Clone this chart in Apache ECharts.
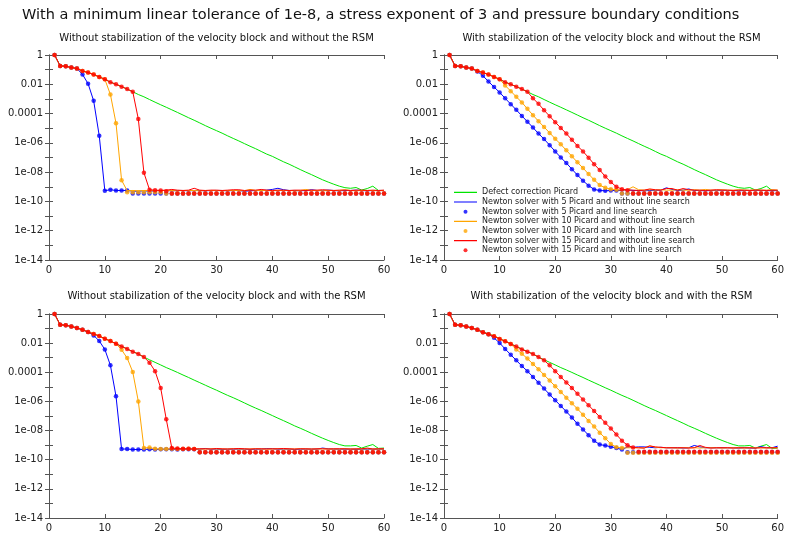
<!DOCTYPE html>
<html>
<head>
<meta charset="utf-8">
<script src="https://cdn.jsdelivr.net/npm/echarts@6/dist/echarts.min.js"></script>
<style>html,body{margin:0;padding:0;background:#fff}#c{width:787px;height:533px}</style>
</head>
<body>
<div id="c"></div>
<script>
// ---------- data ----------
const mainTitle = 'With a minimum linear tolerance of 1e-8, a stress exponent of 3 and pressure boundary conditions';
const panelTitles = [
  'Without stabilization of the velocity block and without the RSM',
  'With stabilization of the velocity block and without the RSM',
  'Without stabilization of the velocity block and with the RSM',
  'With stabilization of the velocity block and with the RSM'
];
const seriesNames = [
  'Defect correction Picard',
  'Newton solver with 5 Picard and without line search',
  'Newton solver with 5 Picard and line search',
  'Newton solver with 10 Picard and without line search',
  'Newton solver with 10 Picard and with line search',
  'Newton solver with 15 Picard and without line search',
  'Newton solver with 15 Picard and with line search'
];
const xTicks = [0, 10, 20, 30, 40, 50, 60];
const yTickLabels = ['1', '0.01', '0.0001', '1e-06', '1e-08', '1e-10', '1e-12', '1e-14'];

// Defect correction Picard (iterations 1..60)
const greenTop = [1,0.18,0.17,0.14,0.12,0.081,0.063,0.046,0.032,0.022,0.014,0.010,0.0069,0.0047,0.0031,
  2.0e-3,1.4e-3,9.1e-4,6.0e-4,4.0e-4,2.7e-4,1.8e-4,1.2e-4,7.9e-5,5.2e-5,3.5e-5,2.3e-5,1.5e-5,1.0e-5,6.8e-6,
  4.6e-6,3.0e-6,2.0e-6,1.35e-6,8.9e-7,5.9e-7,4.0e-7,2.6e-7,1.7e-7,1.2e-7,7.8e-8,5.1e-8,3.5e-8,2.3e-8,1.5e-8,
  1.0e-8,6.8e-9,4.5e-9,3.0e-9,2.1e-9,1.5e-9,1.1e-9,8.7e-10,7.9e-10,8.9e-10,6.0e-10,7.6e-10,1.1e-9,5.6e-10,5.6e-10];
const greenBottom = [1,0.18,0.17,0.14,0.11,0.083,0.058,0.043,0.031,0.020,0.014,0.0091,0.006,0.004,0.0026,0.0018,0.0011,
  7.2e-4,4.8e-4,3.2e-4,2.1e-4,1.45e-4,9.8e-5,6.5e-5,4.4e-5,2.9e-5,1.95e-5,1.3e-5,8.7e-6,5.9e-6,3.9e-6,2.6e-6,
  1.8e-6,1.2e-6,7.9e-7,5.2e-7,3.5e-7,2.4e-7,1.6e-7,1.07e-7,7.1e-8,4.8e-8,3.2e-8,2.1e-8,1.45e-8,9.8e-9,6.5e-9,
  4.4e-9,3.0e-9,2.1e-9,1.5e-9,1.1e-9,8.9e-10,8.9e-10,9.5e-10,6.3e-10,8.5e-10,1.1e-9,6.0e-10,6.3e-10];

// Top-left panel
const tlBlue = [1,0.18,0.17,0.14,0.12,0.047,0.011,7.4e-4,3.0e-6,5.4e-10,
  6.3e-10,5.6e-10,5.6e-10,5.6e-10,5.0e-10,5.0e-10,5.3e-10,5.0e-10,5.3e-10,5.6e-10,
  5.6e-10,5.3e-10,5.6e-10,5.6e-10,5.3e-10,5.6e-10,5.6e-10,5.3e-10,5.6e-10,5.6e-10,
  5.6e-10,5.3e-10,5.6e-10,5.6e-10,5.0e-10,5.3e-10,5.6e-10,5.6e-10,5.9e-10,6.6e-10,
  7.9e-10,6.3e-10,5.6e-10,5.6e-10,5.3e-10,5.6e-10,6.3e-10,5.6e-10,5.6e-10,5.9e-10,
  5.6e-10,5.3e-10,5.6e-10,5.6e-10,5.9e-10,5.6e-10,5.3e-10,5.6e-10,5.6e-10,5.6e-10];
const tlBlueLS = [1,0.18,0.17,0.14,0.12,0.047,0.011,7.4e-4,3.0e-6,5.4e-10,
  6.3e-10,5.6e-10,5.6e-10,5.6e-10,3.5e-10,3.5e-10,3.5e-10,3.5e-10,3.5e-10,3.5e-10,
  3.5e-10,3.5e-10,3.5e-10,3.5e-10,3.5e-10,3.5e-10,3.5e-10,3.5e-10,3.5e-10,3.5e-10,
  3.5e-10,3.5e-10,3.5e-10,3.5e-10,3.5e-10,3.5e-10,3.5e-10,3.5e-10,3.5e-10,3.5e-10,
  3.5e-10,3.5e-10,3.5e-10,3.5e-10,3.5e-10,3.5e-10,3.5e-10,3.5e-10,3.5e-10,3.5e-10,
  3.5e-10,3.5e-10,3.5e-10,3.5e-10,3.5e-10,3.5e-10,3.5e-10,3.5e-10,3.5e-10,3.5e-10];
const tlOrange = [1,0.18,0.17,0.14,0.12,0.081,0.063,0.046,0.032,0.022,
  2.0e-3,2.2e-5,2.8e-9,5.4e-10,5.6e-10,5.3e-10,5.6e-10,5.6e-10,5.3e-10,5.6e-10,
  5.6e-10,5.6e-10,5.3e-10,5.6e-10,5.6e-10,5.6e-10,5.3e-10,5.6e-10,5.6e-10,5.6e-10,
  5.3e-10,5.6e-10,5.6e-10,5.6e-10,5.3e-10,6.6e-10,5.6e-10,5.6e-10,5.6e-10,5.3e-10,
  5.6e-10,5.6e-10,5.6e-10,5.3e-10,5.6e-10,6.6e-10,5.6e-10,5.6e-10,5.3e-10,5.6e-10,
  5.6e-10,5.6e-10,6.3e-10,5.6e-10,5.3e-10,5.6e-10,5.6e-10,5.6e-10,5.3e-10,5.6e-10];
const tlOrangeLS = [1,0.18,0.17,0.14,0.12,0.081,0.063,0.046,0.032,0.022,
  2.0e-3,2.2e-5,2.8e-9,4.2e-10,4.2e-10,4.2e-10,4.2e-10,4.2e-10,4.2e-10,4.2e-10,
  3.5e-10,3.5e-10,3.5e-10,3.5e-10,3.5e-10,3.5e-10,3.5e-10,3.5e-10,3.5e-10,3.5e-10,
  3.5e-10,3.5e-10,3.5e-10,3.5e-10,3.5e-10,3.5e-10,3.5e-10,3.5e-10,3.5e-10,3.5e-10,
  3.5e-10,3.5e-10,3.5e-10,3.5e-10,3.5e-10,3.5e-10,3.5e-10,3.5e-10,3.5e-10,3.5e-10,
  3.5e-10,3.5e-10,3.5e-10,3.5e-10,3.5e-10,3.5e-10,3.5e-10,3.5e-10,3.5e-10,3.5e-10];
const tlRed = [1,0.18,0.17,0.14,0.12,0.081,0.063,0.046,0.032,0.022,
  0.014,0.010,0.0069,0.0047,0.0031,4.2e-5,9.1e-9,6.3e-10,5.9e-10,5.6e-10,
  5.9e-10,6.6e-10,5.9e-10,5.6e-10,5.9e-10,7.9e-10,5.9e-10,5.6e-10,5.9e-10,5.9e-10,
  5.6e-10,5.9e-10,6.3e-10,6.3e-10,5.6e-10,5.9e-10,5.9e-10,6.6e-10,5.9e-10,5.6e-10,
  5.9e-10,5.9e-10,5.6e-10,5.9e-10,5.9e-10,5.6e-10,5.9e-10,5.9e-10,6.3e-10,5.9e-10,
  5.6e-10,5.9e-10,5.9e-10,5.6e-10,5.9e-10,5.9e-10,5.6e-10,5.9e-10,5.6e-10,5.9e-10];
const tlRedLS = [1,0.18,0.17,0.14,0.12,0.081,0.063,0.046,0.032,0.022,
  0.014,0.010,0.0069,0.0047,0.0031,4.2e-5,9.1e-9,6.3e-10,5.9e-10,5.6e-10,
  5.0e-10,3.5e-10,3.5e-10,3.5e-10,3.5e-10,3.5e-10,3.5e-10,3.5e-10,3.5e-10,3.5e-10,
  3.5e-10,3.5e-10,3.5e-10,3.5e-10,3.5e-10,3.5e-10,3.5e-10,3.5e-10,3.5e-10,3.5e-10,
  3.5e-10,3.5e-10,3.5e-10,3.5e-10,3.5e-10,3.5e-10,3.5e-10,3.5e-10,3.5e-10,3.5e-10,
  3.5e-10,3.5e-10,3.5e-10,3.5e-10,3.5e-10,3.5e-10,3.5e-10,3.5e-10,3.5e-10,3.5e-10];

// Top-right panel
const trBlue = [1,0.18,0.17,0.14,0.12,0.076,0.038,0.0155,0.0065,0.0028,
  1.1e-3,4.4e-4,1.8e-4,6.9e-5,2.8e-5,1.1e-5,4.3e-6,1.8e-6,6.9e-7,2.6e-7,
  1.0e-7,4.2e-8,1.6e-8,6.3e-9,2.6e-9,1.2e-9,6.6e-10,5.6e-10,5.3e-10,5.6e-10,
  5.6e-10,5.6e-10,6.3e-10,5.6e-10,5.6e-10,5.3e-10,5.6e-10,5.6e-10,5.9e-10,8.5e-10,
  6.6e-10,5.6e-10,5.9e-10,7.1e-10,5.6e-10,5.6e-10,5.3e-10,5.6e-10,5.6e-10,5.9e-10,
  5.6e-10,5.6e-10,5.3e-10,5.6e-10,5.6e-10,5.9e-10,5.6e-10,5.6e-10,5.3e-10,5.6e-10];
const trBlueLS = [1,0.18,0.17,0.14,0.12,0.076,0.038,0.0155,0.0065,0.0028,
  1.1e-3,4.4e-4,1.8e-4,6.9e-5,2.8e-5,1.1e-5,4.3e-6,1.8e-6,6.9e-7,2.6e-7,
  1.0e-7,4.2e-8,1.6e-8,6.3e-9,2.6e-9,1.2e-9,6.6e-10,5.6e-10,5.3e-10,5.6e-10,
  5.6e-10,3.5e-10,3.5e-10,3.5e-10,3.5e-10,3.5e-10,3.5e-10,3.5e-10,3.5e-10,3.5e-10,
  3.5e-10,3.5e-10,3.5e-10,3.5e-10,3.5e-10,3.5e-10,3.5e-10,3.5e-10,3.5e-10,3.5e-10,
  3.5e-10,3.5e-10,3.5e-10,3.5e-10,3.5e-10,3.5e-10,3.5e-10,3.5e-10,3.5e-10,3.5e-10];
const trOrange = [1,0.18,0.17,0.14,0.12,0.081,0.063,0.046,0.032,0.022,
  8.3e-3,3.4e-3,1.4e-3,5.8e-4,2.1e-4,7.8e-5,3.0e-5,1.2e-5,4.8e-6,1.9e-6,
  7.9e-7,3.1e-7,1.2e-7,4.7e-8,1.9e-8,7.4e-9,3.0e-9,1.3e-9,8.5e-10,6.9e-10,
  6.3e-10,5.9e-10,6.3e-10,1.0e-9,6.3e-10,5.9e-10,6.3e-10,5.9e-10,6.3e-10,5.9e-10,
  5.9e-10,6.3e-10,5.9e-10,5.9e-10,6.3e-10,5.9e-10,6.6e-10,5.9e-10,5.9e-10,6.3e-10,
  5.9e-10,5.9e-10,6.3e-10,5.9e-10,5.9e-10,6.3e-10,5.9e-10,5.9e-10,6.3e-10,5.9e-10];
const trOrangeLS = [1,0.18,0.17,0.14,0.12,0.081,0.063,0.046,0.032,0.022,
  8.3e-3,3.4e-3,1.4e-3,5.8e-4,2.1e-4,7.8e-5,3.0e-5,1.2e-5,4.8e-6,1.9e-6,
  7.9e-7,3.1e-7,1.2e-7,4.7e-8,1.9e-8,7.4e-9,3.0e-9,1.3e-9,8.5e-10,6.9e-10,
  6.3e-10,3.5e-10,3.5e-10,3.5e-10,3.5e-10,3.5e-10,3.5e-10,3.5e-10,3.5e-10,3.5e-10,
  3.5e-10,3.5e-10,3.5e-10,3.5e-10,3.5e-10,3.5e-10,3.5e-10,3.5e-10,3.5e-10,3.5e-10,
  3.5e-10,3.5e-10,3.5e-10,3.5e-10,3.5e-10,3.5e-10,3.5e-10,3.5e-10,3.5e-10,3.5e-10];
const trRed = [1,0.18,0.17,0.14,0.12,0.081,0.063,0.046,0.032,0.022,
  0.014,0.010,0.0069,0.0047,0.0031,1.1e-3,4.6e-4,1.7e-4,6.6e-5,2.6e-5,
  1.05e-5,4.3e-6,1.6e-6,6.2e-7,2.6e-7,9.8e-8,3.5e-8,1.4e-8,5.1e-9,2.1e-9,
  1.0e-9,6.9e-10,5.9e-10,5.9e-10,5.6e-10,5.9e-10,7.1e-10,6.3e-10,5.9e-10,7.6e-10,
  7.6e-10,5.9e-10,7.6e-10,6.3e-10,5.9e-10,5.9e-10,5.6e-10,5.9e-10,6.3e-10,5.9e-10,
  5.9e-10,5.6e-10,5.9e-10,5.9e-10,5.6e-10,5.9e-10,5.9e-10,5.6e-10,5.9e-10,5.9e-10];
const trRedLS = [1,0.18,0.17,0.14,0.12,0.081,0.063,0.046,0.032,0.022,
  0.014,0.010,0.0069,0.0047,0.0031,1.1e-3,4.6e-4,1.7e-4,6.6e-5,2.6e-5,
  1.05e-5,4.3e-6,1.6e-6,6.2e-7,2.6e-7,9.8e-8,3.5e-8,1.4e-8,5.1e-9,2.1e-9,
  1.0e-9,6.9e-10,5.9e-10,3.5e-10,3.5e-10,3.5e-10,3.5e-10,3.5e-10,3.5e-10,3.5e-10,
  3.5e-10,3.5e-10,3.5e-10,3.5e-10,3.5e-10,3.5e-10,3.5e-10,3.5e-10,3.5e-10,3.5e-10,
  3.5e-10,3.5e-10,3.5e-10,3.5e-10,3.5e-10,3.5e-10,3.5e-10,3.5e-10,3.5e-10,3.5e-10];

// Bottom-left panel
const blBlue = [1,0.18,0.17,0.14,0.11,0.083,0.058,0.034,0.014,3.7e-3,
  3.0e-4,2.3e-6,5.4e-10,5.4e-10,5.0e-10,5.0e-10,5.0e-10,5.3e-10,5.0e-10,5.3e-10,
  5.3e-10,5.3e-10,5.0e-10,5.3e-10,5.3e-10,5.3e-10,5.3e-10,5.9e-10,5.3e-10,5.3e-10,
  5.0e-10,5.3e-10,5.3e-10,5.3e-10,5.3e-10,5.0e-10,5.3e-10,5.3e-10,5.9e-10,5.6e-10,
  5.3e-10,5.3e-10,5.3e-10,5.0e-10,5.3e-10,5.3e-10,5.3e-10,5.3e-10,6.3e-10,5.6e-10,
  5.3e-10,5.3e-10,5.3e-10,5.3e-10,5.0e-10,5.3e-10,5.3e-10,5.3e-10,5.3e-10,5.3e-10];
const blBlueLS = [1,0.18,0.17,0.14,0.11,0.083,0.058,0.034,0.014,3.7e-3,
  3.0e-4,2.3e-6,5.4e-10,5.4e-10,5.0e-10,5.0e-10,5.0e-10,5.3e-10,5.0e-10,5.3e-10,
  5.3e-10,5.3e-10,5.0e-10,5.3e-10,5.3e-10,5.3e-10,3.2e-10,3.2e-10,3.2e-10,3.2e-10,
  3.2e-10,3.2e-10,3.2e-10,3.2e-10,3.2e-10,3.2e-10,3.2e-10,3.2e-10,3.2e-10,3.2e-10,
  3.2e-10,3.2e-10,3.2e-10,3.2e-10,3.2e-10,3.2e-10,3.2e-10,3.2e-10,3.2e-10,3.2e-10,
  3.2e-10,3.2e-10,3.2e-10,3.2e-10,3.2e-10,3.2e-10,3.2e-10,3.2e-10,3.2e-10,3.2e-10];
const blOrange = [1,0.18,0.17,0.14,0.11,0.083,0.058,0.043,0.031,0.020,
  0.014,0.0091,3.5e-3,9.5e-4,1.05e-4,1.0e-6,6.3e-10,6.8e-10,5.6e-10,5.4e-10,
  5.4e-10,5.6e-10,5.4e-10,5.4e-10,5.6e-10,5.4e-10,5.4e-10,5.4e-10,5.6e-10,5.4e-10,
  5.4e-10,5.4e-10,5.6e-10,5.4e-10,5.4e-10,5.4e-10,5.6e-10,5.4e-10,5.4e-10,5.4e-10,
  5.6e-10,5.4e-10,5.4e-10,5.4e-10,5.6e-10,5.4e-10,5.4e-10,5.4e-10,5.6e-10,5.4e-10,
  5.4e-10,5.4e-10,5.6e-10,5.4e-10,5.4e-10,5.4e-10,5.6e-10,5.4e-10,5.4e-10,5.4e-10];
const blOrangeLS = [1,0.18,0.17,0.14,0.11,0.083,0.058,0.043,0.031,0.020,
  0.014,0.0091,3.5e-3,9.5e-4,1.05e-4,1.0e-6,6.3e-10,6.8e-10,5.6e-10,5.4e-10,
  5.4e-10,5.6e-10,5.4e-10,5.4e-10,5.6e-10,5.4e-10,3.2e-10,3.2e-10,3.2e-10,3.2e-10,
  3.2e-10,3.2e-10,3.2e-10,3.2e-10,3.2e-10,3.2e-10,3.2e-10,3.2e-10,3.2e-10,3.2e-10,
  3.2e-10,3.2e-10,3.2e-10,3.2e-10,3.2e-10,3.2e-10,3.2e-10,3.2e-10,3.2e-10,3.2e-10,
  3.2e-10,3.2e-10,3.2e-10,3.2e-10,3.2e-10,3.2e-10,3.2e-10,3.2e-10,3.2e-10,3.2e-10];
const blRed = [1,0.18,0.17,0.14,0.11,0.083,0.058,0.043,0.031,0.020,
  0.014,0.0091,0.006,0.004,0.0026,0.0018,0.0011,4.6e-4,1.2e-4,8.5e-6,
  6.0e-8,6.3e-10,5.9e-10,5.6e-10,5.6e-10,5.4e-10,5.6e-10,5.6e-10,5.4e-10,5.9e-10,
  5.6e-10,5.4e-10,5.6e-10,5.9e-10,5.6e-10,5.4e-10,5.6e-10,5.6e-10,5.4e-10,5.6e-10,
  5.6e-10,5.9e-10,5.6e-10,5.4e-10,5.6e-10,5.6e-10,5.4e-10,5.6e-10,5.6e-10,5.4e-10,
  5.6e-10,5.6e-10,5.6e-10,5.4e-10,5.6e-10,5.6e-10,6.3e-10,5.4e-10,5.6e-10,5.6e-10];
const blRedLS = [1,0.18,0.17,0.14,0.11,0.083,0.058,0.043,0.031,0.020,
  0.014,0.0091,0.006,0.004,0.0026,0.0018,0.0011,4.6e-4,1.2e-4,8.5e-6,
  6.0e-8,6.3e-10,5.9e-10,5.6e-10,5.6e-10,5.4e-10,3.2e-10,3.2e-10,3.2e-10,3.2e-10,
  3.2e-10,3.2e-10,3.2e-10,3.2e-10,3.2e-10,3.2e-10,3.2e-10,3.2e-10,3.2e-10,3.2e-10,
  3.2e-10,3.2e-10,3.2e-10,3.2e-10,3.2e-10,3.2e-10,3.2e-10,3.2e-10,3.2e-10,3.2e-10,
  3.2e-10,3.2e-10,3.2e-10,3.2e-10,3.2e-10,3.2e-10,3.2e-10,3.2e-10,3.2e-10,3.2e-10];

// Bottom-right panel
const brBlue = [1,0.18,0.17,0.14,0.11,0.083,0.055,0.041,0.023,0.0102,
  4.0e-3,1.6e-3,6.6e-4,2.7e-4,1.2e-4,4.8e-5,1.9e-5,7.6e-6,3.0e-6,1.2e-6,
  4.9e-7,2.0e-7,7.8e-8,2.9e-8,1.2e-8,4.8e-9,2.0e-9,1.1e-9,9.3e-10,7.9e-10,
  6.3e-10,5.0e-10,7.6e-10,7.1e-10,7.6e-10,7.6e-10,7.1e-10,6.6e-10,7.1e-10,6.6e-10,
  6.6e-10,6.6e-10,6.3e-10,6.6e-10,9.5e-10,7.6e-10,6.6e-10,6.6e-10,6.6e-10,6.6e-10,
  6.6e-10,6.6e-10,6.3e-10,6.6e-10,6.3e-10,6.3e-10,7.9e-10,6.6e-10,6.6e-10,8.5e-10];
const brBlueLS = [1,0.18,0.17,0.14,0.11,0.083,0.055,0.041,0.023,0.0102,
  4.0e-3,1.6e-3,6.6e-4,2.7e-4,1.2e-4,4.8e-5,1.9e-5,7.6e-6,3.0e-6,1.2e-6,
  4.9e-7,2.0e-7,7.8e-8,2.9e-8,1.2e-8,4.8e-9,2.0e-9,1.1e-9,9.3e-10,7.9e-10,
  6.3e-10,5.0e-10,3.2e-10,3.2e-10,3.2e-10,3.2e-10,3.2e-10,3.2e-10,3.2e-10,3.2e-10,
  3.2e-10,3.2e-10,3.2e-10,3.2e-10,3.2e-10,3.2e-10,3.2e-10,3.2e-10,3.2e-10,3.2e-10,
  3.2e-10,3.2e-10,3.2e-10,3.2e-10,3.2e-10,3.2e-10,3.2e-10,3.2e-10,3.2e-10,3.2e-10];
const brOrange = [1,0.18,0.17,0.14,0.11,0.083,0.055,0.041,0.030,0.0195,
  0.0135,0.0087,3.7e-3,1.9e-3,8.7e-4,3.7e-4,1.6e-4,6.6e-5,2.7e-5,1.1e-5,
  4.5e-6,1.8e-6,7.4e-7,3.1e-7,1.2e-7,4.6e-8,1.9e-8,7.2e-9,3.0e-9,1.2e-9,
  7.2e-10,6.3e-10,6.6e-10,6.6e-10,6.6e-10,6.3e-10,8.9e-10,7.1e-10,6.6e-10,6.6e-10,
  6.6e-10,6.3e-10,6.6e-10,6.6e-10,6.6e-10,6.3e-10,6.6e-10,6.6e-10,6.6e-10,6.3e-10,
  6.6e-10,6.6e-10,6.6e-10,6.3e-10,6.6e-10,6.6e-10,6.6e-10,6.3e-10,6.6e-10,6.6e-10];
const brOrangeLS = [1,0.18,0.17,0.14,0.11,0.083,0.055,0.041,0.030,0.0195,
  0.0135,0.0087,3.7e-3,1.9e-3,8.7e-4,3.7e-4,1.6e-4,6.6e-5,2.7e-5,1.1e-5,
  4.5e-6,1.8e-6,7.4e-7,3.1e-7,1.2e-7,4.6e-8,1.9e-8,7.2e-9,3.0e-9,1.2e-9,
  7.2e-10,6.3e-10,3.0e-10,3.0e-10,3.0e-10,3.0e-10,3.0e-10,3.0e-10,3.0e-10,3.0e-10,
  3.0e-10,3.0e-10,3.0e-10,3.0e-10,3.0e-10,3.0e-10,3.0e-10,3.0e-10,3.0e-10,3.0e-10,
  3.0e-10,3.0e-10,3.0e-10,3.0e-10,3.0e-10,3.0e-10,3.0e-10,3.0e-10,3.0e-10,3.0e-10];
const brRed = [1,0.18,0.17,0.14,0.11,0.083,0.055,0.041,0.030,0.0195,
  0.0135,0.0087,0.0058,0.0037,0.0026,0.0018,0.0011,6.6e-4,3.0e-4,1.2e-4,
  4.8e-5,2.0e-5,8.5e-6,3.3e-6,1.35e-6,5.5e-7,2.2e-7,8.7e-8,3.4e-8,1.4e-8,
  5.4e-9,2.0e-9,9.8e-10,6.9e-10,6.6e-10,6.3e-10,8.9e-10,7.6e-10,7.1e-10,6.6e-10,
  6.6e-10,6.6e-10,6.6e-10,6.3e-10,6.6e-10,9.5e-10,7.1e-10,6.3e-10,6.6e-10,6.6e-10,
  6.6e-10,6.3e-10,6.6e-10,6.6e-10,6.6e-10,6.3e-10,6.6e-10,6.6e-10,6.6e-10,6.6e-10];
const brRedLS = [1,0.18,0.17,0.14,0.11,0.083,0.055,0.041,0.030,0.0195,
  0.0135,0.0087,0.0058,0.0037,0.0026,0.0018,0.0011,6.6e-4,3.0e-4,1.2e-4,
  4.8e-5,2.0e-5,8.5e-6,3.3e-6,1.35e-6,5.5e-7,2.2e-7,8.7e-8,3.4e-8,1.4e-8,
  5.4e-9,2.0e-9,9.8e-10,6.9e-10,3.5e-10,3.5e-10,3.5e-10,3.5e-10,3.5e-10,3.5e-10,
  3.5e-10,3.5e-10,3.5e-10,3.5e-10,3.5e-10,3.5e-10,3.5e-10,3.5e-10,3.5e-10,3.5e-10,
  3.5e-10,3.5e-10,3.5e-10,3.5e-10,3.5e-10,3.5e-10,3.5e-10,3.5e-10,3.5e-10,3.5e-10];

const panels = [
  [greenTop, tlBlue, tlBlueLS, tlOrange, tlOrangeLS, tlRed, tlRedLS],
  [greenTop, trBlue, trBlueLS, trOrange, trOrangeLS, trRed, trRedLS],
  [greenBottom, blBlue, blBlueLS, blOrange, blOrangeLS, blRed, blRedLS],
  [greenBottom, brBlue, brBlueLS, brOrange, brOrangeLS, brRed, brRedLS]
];

// ---------- styling / layout ----------
const colors = ['#00e400', '#0000ff', '#0000ff', '#ffa500', '#ffa500', '#ff0000', '#ff0000'];
const isDots = [false, false, true, false, true, false, true];
const grids = [
  {left: 49, top: 55, width: 335, height: 205},
  {left: 444, top: 55, width: 335, height: 205},
  {left: 49, top: 314, width: 335, height: 204},
  {left: 444, top: 314, width: 335, height: 204}
];
const titleY = [38.3, 38.3, 296.7, 296.7];
const axisColor = '#555';
const labelColor = '#222';
const FONT = 'DejaVu Sans';

function yLabel(v) {
  const e = Math.round(Math.log10(v));
  if (e % 2 !== 0) return '';
  const idx = -e / 2;
  return yTickLabels[idx] !== undefined ? yTickLabels[idx] : '';
}

const xAxes = [], yAxes = [], series = [], titles = [];
titles.push({text: mainTitle, left: 22, top: 15, textVerticalAlign: 'middle', padding: 0,
  textStyle: {fontSize: 14.5, fontWeight: 'normal', color: '#111', fontFamily: FONT}});

grids.forEach((g, i) => {
  titles.push({text: panelTitles[i], left: g.left + g.width / 2, top: titleY[i], textAlign: 'center',
    textVerticalAlign: 'middle', padding: 0,
    textStyle: {fontSize: 10, fontWeight: 'normal', color: '#111', fontFamily: FONT}});
  const xBase = {gridIndex: i, type: 'value', min: xTicks[0], max: xTicks[xTicks.length - 1], interval: 10,
    axisLine: {show: true, lineStyle: {color: axisColor, width: 1}},
    axisTick: {show: true, inside: true, length: 4, lineStyle: {color: axisColor}},
    splitLine: {show: false}};
  xAxes.push(Object.assign({}, xBase, {position: 'bottom',
    axisLabel: {fontSize: 10, margin: 5, color: labelColor, fontFamily: FONT}}));
  xAxes.push(Object.assign({}, xBase, {position: 'top', axisLabel: {show: false}}));
  const yBase = {gridIndex: i, type: 'log', logBase: 10, min: 1e-14, max: 1, interval: 1,
    axisLine: {show: true, lineStyle: {color: axisColor, width: 1}},
    axisTick: {show: true, inside: true, length: 4, lineStyle: {color: axisColor}},
    splitLine: {show: false}, minorTick: {show: false}};
  yAxes.push(Object.assign({}, yBase, {position: 'left',
    axisLabel: {fontSize: 10, margin: 6, color: labelColor, fontFamily: FONT, formatter: yLabel, showMinLabel: true, showMaxLabel: true}}));
  yAxes.push(Object.assign({}, yBase, {position: 'right', axisLabel: {show: false}}));

  panels[i].forEach((arr, k) => {
    const data = arr.map((v, j) => [j + 1, v]);
    if (isDots[k]) {
      series.push({name: seriesNames[k], type: 'scatter', xAxisIndex: 2 * i, yAxisIndex: 2 * i,
        data, symbol: 'circle', symbolSize: 4.5, itemStyle: {color: colors[k]}, z: 2 + k * 0.01});
    } else {
      series.push({name: seriesNames[k], type: 'line', xAxisIndex: 2 * i, yAxisIndex: 2 * i,
        data, showSymbol: false, symbol: 'none', lineStyle: {color: colors[k], width: 1},
        itemStyle: {color: colors[k]}, z: 2 + k * 0.01});
    }
  });
});

const lineIcon = 'path://M0,0h0.01v0.01h-0.01zM0,1.4h23v1.2h-23zM0,3.99h0.01v0.01h-0.01z';
const legendData = seriesNames.map((n, k) => ({
  name: n,
  icon: isDots[k] ? 'circle' : lineIcon,
  itemStyle: {color: colors[k]}
}));

const chart = echarts.init(document.getElementById('c'), null, {renderer: 'canvas'});
chart.setOption({
  animation: false,
  backgroundColor: '#fff',
  textStyle: {fontFamily: FONT},
  title: titles,
  grid: grids,
  xAxis: xAxes,
  yAxis: yAxes,
  legend: {data: legendData, orient: 'vertical', left: 454, top: 187.5, padding: 0,
    itemWidth: 23, itemHeight: 4, itemGap: 0, selectedMode: false, symbolKeepAspect: false,
    textStyle: {fontSize: 8, lineHeight: 9.67, color: '#222', fontFamily: FONT}},
  series: series
});
</script>
</body>
</html>
